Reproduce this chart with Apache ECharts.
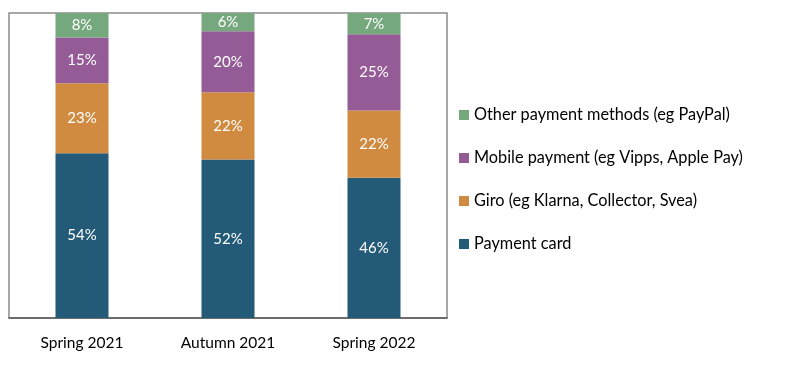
<!DOCTYPE html>
<html><head><meta charset="utf-8">
<script src="https://cdn.jsdelivr.net/npm/echarts@6/dist/echarts.min.js"></script>
<style>html,body{margin:0;padding:0;background:#fff}#c{width:797px;height:365px}</style>
</head><body><div id="c"></div>
<script>
const categories = ['Spring 2021', 'Autumn 2021', 'Spring 2022'];
const paymentCard = [54, 52, 46];
const giro = [23, 22, 22];
const mobile = [15, 20, 25];
const other = [8, 6, 7];
const seriesNames = ['Payment card', 'Giro (eg Klarna, Collector, Svea)', 'Mobile payment (eg Vipps, Apple Pay)', 'Other payment methods (eg PayPal)'];
const colors = ['#235A78', '#D08B41', '#955B96', '#76A87E'];
const values = [paymentCard, giro, mobile, other];
const font = 'Lato, "Open Sans", sans-serif';
const chart = echarts.init(document.getElementById('c'));
chart.setOption({
  animation: false,
  grid: {left: 9, top: 13, width: 438, height: 305, show: true, borderColor: '#8c8c8c', borderWidth: 1.5},
  legend: {
    orient: 'vertical', left: 454, top: 102, itemWidth: 10, itemHeight: 10, itemGap: 27,
    icon: 'rect',
    data: seriesNames.slice().reverse(),
    textStyle: {fontFamily: font, fontSize: 16.3, color: '#000'}
  },
  xAxis: {
    type: 'category', data: categories,
    axisLine: {lineStyle: {color: '#595959', width: 1.5}},
    axisTick: {inside: true, length: 5, lineStyle: {color: '#595959'}},
    axisLabel: {fontFamily: font, fontSize: 15.5, color: '#000', margin: 17}
  },
  yAxis: {type: 'value', min: 0, max: 100, show: false, splitLine: {show: false}},
  series: values.map((v, i) => ({
    name: seriesNames[i], type: 'bar', stack: 'a', data: v, barWidth: 53,
    itemStyle: {color: colors[i]},
    label: {show: true, position: 'inside', formatter: '{c}%', color: '#fff', fontFamily: font, fontSize: 15}
  }))
});
</script></body></html>
